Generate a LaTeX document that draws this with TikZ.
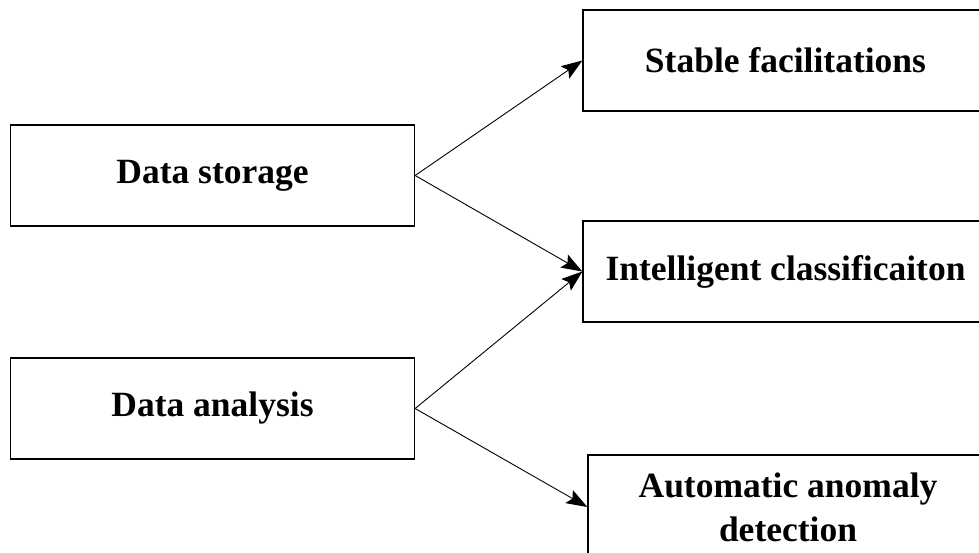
\documentclass[tikz,border=0pt]{standalone}
\usepackage{fontspec}
\setmainfont{Liberation Serif}
\usetikzlibrary{arrows.meta}

\begin{document}
\begin{tikzpicture}[x=1pt,y=-1pt]
        \tikzset{box/.style={draw,line width=1.3pt,rectangle,minimum width=404pt,minimum height=101pt,inner sep=0pt,
            font=\fontsize{35.5}{44}\selectfont\bfseries,align=center},
          link/.style={line width=0.9pt,-{Stealth[length=21pt,width=15pt,inset=4pt]}}}
          \useasboundingbox (0,0) rectangle (979,552);

          % left column
          \node[box](storage) at (212.5,175.5) {Data storage};
          \node[box](analysis) at (212.5,408.5) {Data analysis};

          % right column, cut off at the page edge
          \node[box,minimum width=405pt](stable) at (785.5,60.5) {Stable facilitations};
          \node[box,minimum width=405pt](classify) at (785.5,271.5) {Intelligent classificaiton};
          \node[box,minimum width=400pt,minimum height=104pt](anomaly) at (788,507) {Automatic anomaly\\detection};

          \draw[link] (storage.east) -- (stable.west);
          \draw[link] (storage.east) -- (classify.west);
          \draw[link] (analysis.east) -- (classify.west);
          \draw[link] (analysis.east) -- (anomaly.west);
      \end{tikzpicture}
\end{document}
